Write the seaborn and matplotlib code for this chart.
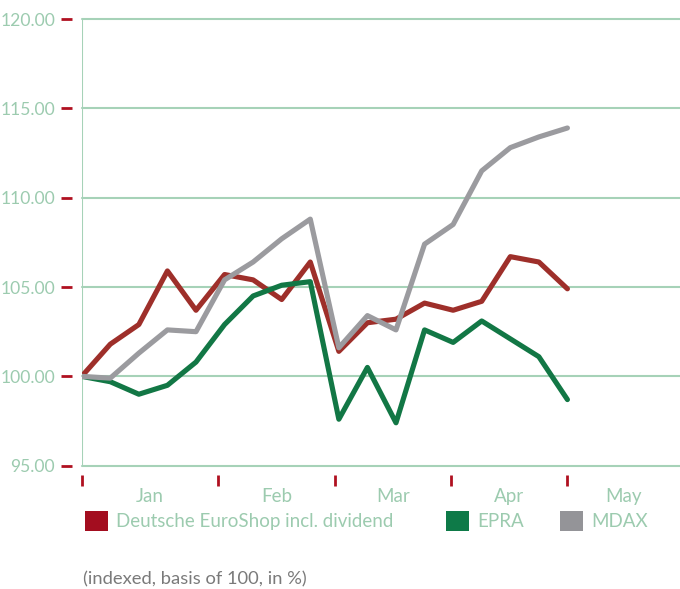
import matplotlib
matplotlib.use("Agg")
import matplotlib.pyplot as plt
import seaborn as sns
import pandas as pd
from matplotlib.patches import Patch

# ---- data ----
weeks = list(range(18))
des = [100.0, 101.8, 102.9, 105.9, 103.7, 105.7, 105.4, 104.3, 106.4, 101.4,
       103.0, 103.2, 104.1, 103.7, 104.2, 106.7, 106.4, 104.9]
epra = [100.0, 99.7, 99.0, 99.5, 100.8, 102.9, 104.5, 105.1, 105.3, 97.6,
        100.5, 97.4, 102.6, 101.9, 103.1, 102.1, 101.1, 98.7]
mdax = [100.0, 99.9, 101.3, 102.6, 102.5, 105.4, 106.4, 107.7, 108.8, 101.6,
        103.4, 102.6, 107.4, 108.5, 111.5, 112.8, 113.4, 113.9]
series_names = ["Deutsche EuroShop incl. dividend", "EPRA", "MDAX"]
month_labels = ["Jan", "Feb", "Mar", "Apr", "May"]
month_bounds = [0, 4.76, 8.87, 12.93, 17.0, 20.9]
y_ticks = [95, 100, 105, 110, 115, 120]
footnote = "(indexed, basis of 100, in %)"

line_colors = ["#9E2F2A", "#127745", "#9B9B9F"]
legend_colors = ["#A30D1F", "#0E7A48", "#949498"]
text_color = "#9CCBAF"
grid_color = "#A6D2B8"
tick_color = "#B01020"

df = pd.DataFrame({
    "week": weeks * 3,
    "value": des + epra + mdax,
    "series": [series_names[0]] * 18 + [series_names[1]] * 18 + [series_names[2]] * 18,
})

sns.set_style("white")
plt.rcParams["font.family"] = ["Lato", "DejaVu Sans"]

W, H = 680, 589
fig = plt.figure(figsize=(6.8, 5.89), dpi=100)
ax = fig.add_axes([81.7 / W, (H - 465.7) / H, 1 - 81.7 / W, (465.7 - 19) / H])

sns.lineplot(data=df, x="week", y="value", hue="series",
             palette=dict(zip(series_names, line_colors)),
             linewidth=3.7, legend=False, ax=ax, zorder=3)

ax.set_xlim(0, 20.94)
ax.set_ylim(95, 120)
ax.set_xlabel("")
ax.set_ylabel("")

# grid lines (horizontal) and left vertical line
for yv in y_ticks:
    ax.axhline(yv, color=grid_color, lw=1.5, zorder=1, clip_on=False)
ax.axvline(0, color=grid_color, lw=1.5, zorder=1)

for s in ax.spines.values():
    s.set_visible(False)
ax.spines["left"].set_position(("outward", 6.8))
ax.spines["bottom"].set_position(("outward", 6.7))

ax.set_yticks(y_ticks)
ax.set_yticklabels([f"{v:.2f}" for v in y_ticks])
ax.tick_params(axis="y", which="major", length=8.1, width=2, color=tick_color,
               labelcolor=text_color, labelsize=12.6, pad=4.3, left=True)

centers = [(month_bounds[i] + month_bounds[i + 1]) / 2 for i in range(5)]
ax.set_xticks(month_bounds[:5])
ax.set_xticklabels([""] * 5)
ax.set_xticks(centers, minor=True)
ax.set_xticklabels(month_labels, minor=True)
ax.tick_params(axis="x", which="major", length=7.7, width=2, color=tick_color,
               bottom=True, direction="out")
ax.tick_params(axis="x", which="minor", length=0, labelcolor=text_color,
               labelsize=13.5, pad=9.5)

# legend: three entries placed individually
leg_x = [85, 446, 560]
fs = 13.5
for name, col, x in zip(series_names, legend_colors, leg_x):
    leg = fig.legend([Patch(facecolor=col, edgecolor="none")], [name],
                     loc="center left", bbox_to_anchor=(x / W, 1 - 521 / H),
                     frameon=False, fontsize=fs, handlelength=1.23,
                     handleheight=1.23, handletextpad=0.43,
                     borderaxespad=0, borderpad=0)
    for t in leg.get_texts():
        t.set_color(text_color)

fig.text(83 / W, 1 - 579 / H, footnote, color="#7A7A7A", fontsize=13.2,
         va="center", ha="left")

fig.savefig("out.png", dpi=100)
